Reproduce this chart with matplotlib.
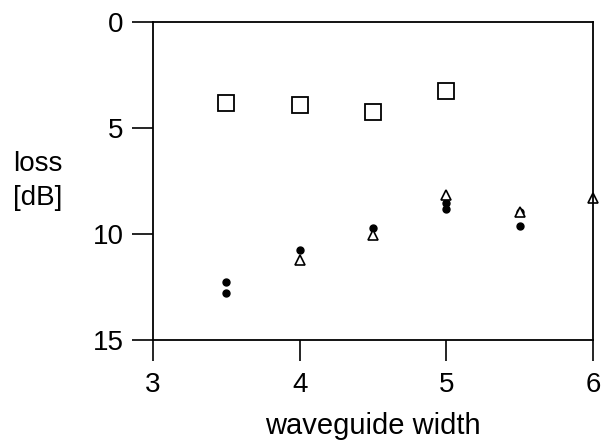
import numpy as np
import matplotlib.pyplot as plt

plt.rcParams['font.family'] = ['Liberation Sans', 'DejaVu Sans']

# open squares
sq_x = [3.5, 4.0, 4.5, 5.0]
sq_y = [3.8, 3.9, 4.25, 3.25]

# filled dots
dot_x = [3.5, 3.5, 4.0, 4.5, 5.0, 5.0, 5.5, 5.5]
dot_y = [12.25, 12.8, 10.75, 9.7, 8.55, 8.8, 8.95, 9.6]

# open triangles
tri_x = [4.0, 4.5, 5.0, 5.5, 6.0]
tri_y = [11.2, 10.05, 8.15, 8.95, 8.3]

fig = plt.figure(figsize=(6.03, 4.43), dpi=100)
ax = fig.add_axes([0.2537, 0.2325, 0.7297, 0.717])

ax.plot(sq_x, sq_y, 's', ms=11, mfc='white', mec='black', mew=1.3, ls='none')
ax.plot(dot_x, dot_y, 'o', ms=5, color='black', ls='none')
ax.plot(tri_x, tri_y, '^', ms=6.5, mfc='white', mec='black', mew=1.2, ls='none', clip_on=False)

ax.set_xlim(3, 6)
ax.set_ylim(15, 0)
ax.set_xticks([3, 4, 5, 6])
ax.set_yticks([0, 5, 10, 15])
ax.tick_params(direction='out', length=15, width=1.2, labelsize=20, pad=6)
ax.tick_params(axis='x', pad=8)
for s in ax.spines.values():
    s.set_linewidth(1.3)

ax.set_xlabel('waveguide width', fontsize=21, labelpad=10)
fig.text(0.022, 0.66, 'loss\n[dB]', fontsize=20, ha='left', va='top', linespacing=1.4)

fig.savefig('out.png', dpi=100)
